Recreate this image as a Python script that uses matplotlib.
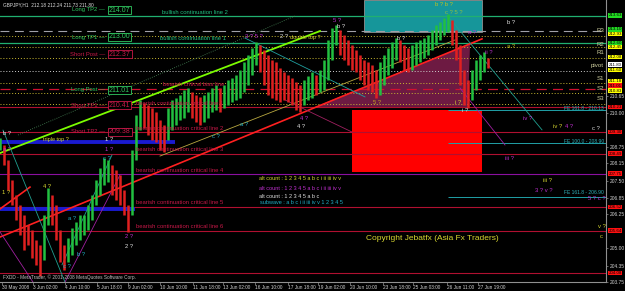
import matplotlib
matplotlib.use('Agg')
import matplotlib.pyplot as plt
from matplotlib.patches import Rectangle, Polygon
import matplotlib.transforms as mtransforms

plt.rcParams['font.family'] = ['Liberation Sans', 'DejaVu Sans']

# ---------------- data ----------------
bar_x = list(range(0, 489, 4))
highs = [209.08, 208.82, 208.26, 207.52, 206.97, 206.60, 206.23, 205.86, 205.67, 205.30,
         205.12, 206.23, 207.23, 206.97, 206.60, 205.67, 205.12, 205.38, 205.75, 205.97,
         206.23, 206.23, 206.60, 206.97, 207.52, 207.97, 208.34, 208.26, 208.08, 207.89,
         207.71, 207.15, 206.60, 208.63, 209.93, 210.49, 210.38, 210.30, 210.19, 210.04,
         209.75, 209.56, 210.19, 210.49, 210.56, 210.67, 210.86, 210.93, 210.78, 210.67,
         210.60, 210.67, 210.78, 210.93, 211.04, 210.93, 211.04, 211.23, 211.30, 211.41,
         211.60, 211.89, 212.15, 212.41, 212.63, 212.52, 212.34, 212.15, 211.97, 211.89,
         211.67, 211.52, 211.41, 211.30, 211.15, 211.04, 211.23, 211.38, 211.52, 211.41,
         211.60, 211.97, 212.71, 213.15, 213.26, 213.08, 212.89, 212.71, 212.52, 212.34,
         212.15, 211.97, 211.89, 211.78, 211.60, 211.89, 212.15, 212.41, 212.63, 212.78,
         212.71, 212.52, 212.41, 212.52, 212.63, 212.71, 212.78, 212.89, 213.08, 213.26,
         213.38, 213.52, 213.67, 213.45, 213.08, 212.52, 211.60, 211.23, 211.60, 211.97,
         212.15, 212.26, 212.04]
lows = [208.63, 208.08, 207.15, 206.60, 206.04, 205.49, 204.93, 205.12, 204.64, 204.38,
        203.97, 204.56, 205.86, 205.86, 205.30, 204.49, 204.19, 204.49, 204.75, 205.12,
        205.30, 205.49, 205.67, 206.04, 206.60, 206.97, 207.34, 207.45, 206.97, 206.78,
        206.60, 206.23, 205.60, 206.23, 208.26, 209.38, 209.45, 209.19, 209.00, 208.93,
        208.63, 208.56, 209.00, 209.38, 209.56, 209.75, 209.82, 210.04, 209.82, 209.67,
        209.56, 209.67, 209.82, 210.04, 210.12, 210.04, 210.19, 210.30, 210.41, 210.49,
        210.56, 210.78, 211.04, 211.41, 211.78, 211.52, 211.04, 210.67, 210.56, 210.49,
        210.41, 210.49, 210.41, 210.30, 210.12, 210.04, 210.30, 210.49, 210.56, 210.67,
        210.78, 210.86, 211.23, 211.97, 212.52, 212.15, 211.97, 211.78, 211.60, 211.52,
        211.23, 211.04, 210.86, 210.78, 210.56, 210.67, 211.04, 211.41, 211.67, 211.97,
        211.89, 211.60, 211.52, 211.60, 211.78, 211.89, 212.04, 212.15, 212.34, 212.52,
        212.71, 212.89, 213.00, 212.52, 211.97, 211.04, 210.30, 210.19, 210.49, 210.86,
        211.23, 211.52, 211.67]

price_ticks = [203.75, 204.35, 205.00, 205.60, 206.25, 206.85, 207.50, 208.15, 208.75,
               209.40, 210.00, 210.65, 211.25, 211.90, 212.50, 213.15, 213.75]
time_pos = [2, 33, 65, 97, 128, 160, 193, 223, 255, 288, 318, 350, 383, 413, 447, 478]
time_labels = ['30 May 2008', '3 Jun 02:00', '4 Jun 10:00', '5 Jun 18:00', '9 Jun 02:00',
               '10 Jun 10:00', '11 Jun 18:00', '13 Jun 02:00', '16 Jun 10:00', '17 Jun 18:00',
               '19 Jun 02:00', '20 Jun 10:00', '23 Jun 18:00', '25 Jun 03:00', '26 Jun 11:00',
               '27 Jun 19:00']

green_levels = [213.60, 212.60]
gray_dash_level = 213.04
pivot_levels = [212.86, 212.45, 212.04, 211.56, 211.12, 210.75, 210.34]
pivot_names = ['R3', 'R2', 'R1', 'pivot', 'S1', 'S2', 'S3']
reversal_level = 210.89
crit_levels = [210.23, 209.30, 208.49, 207.75, 206.52, 205.64]
bottom_level = 204.08
blue_levels = [208.93, 206.45]
blue_ends = [175, 135]
fe_levels = [210.12, 208.89, 206.89]
fe_names = ['FE 161.8 - 210.13', 'FE 100.0 - 208.90', 'FE 161.8 - 206.90']

trade_names = ['Long TP2', 'Long TP1', 'Short Post', 'Long Post', 'Short TP1', 'Short TP2']
trade_values = ['214.07', '213.00', '212.37', '211.01', '210.41', '209.38']

axis_box_prices = [213.63, 213.10, 212.93, 212.60, 212.45, 212.08, 211.80, 211.60, 211.18,
                   211.01, 210.83, 210.23, 209.30, 208.49, 207.75, 206.52, 205.64, 204.08]
axis_box_colors = ['#22dd22', '#22dd22', '#ffff00', '#22dd22', '#ffff00', '#ffff00', '#ffffff',
                   '#ffff00', '#ffff00', '#ff1010', '#ffff00', '#ff1010', '#ff1010', '#ff1010',
                   '#ff1010', '#ff1010', '#ff1010', '#ff1010']

# trend lines: (x0, p0, x1, p1, color, lw, style)
trend_lines = [
    (0, 208.52, 320, 213.04, '#7cfc00', 1.3, '-'),
    (0, 205.41, 482, 212.75, '#ff2020', 1.2, '-'),
    (0, 206.45, 30, 207.26, '#ff2020', 1.2, '-'),
    (160, 208.41, 455, 212.71, '#b8a840', 0.6, '-'),
    (447, 213.63, 542, 209.38, '#20a090', 0.6, '-'),
    (245, 212.78, 365, 210.60, '#20a0a0', 0.6, '-'),
    (18, 209.19, 295, 213.60, '#4a8a5a', 0.6, ':'),
    (3, 209.37, 65, 203.74, '#20a090', 0.6, '-'),
    (0, 205.60, 33, 203.74, '#a020a0', 0.6, '-'),
    (62, 204.38, 112, 208.45, '#20a090', 0.6, '-'),
    (65, 203.74, 120, 207.71, '#a020a0', 0.6, '-'),
    (285, 210.49, 352, 209.30, '#a02060', 0.6, '-'),
    (460, 210.93, 505, 208.82, '#a020a0', 0.6, '-'),
]

W, H = 625, 291
fig = plt.figure(figsize=(W / 100, H / 100), dpi=100, facecolor='black')
ax = fig.add_axes([0, 9 / H, 606 / W, 282 / H])
ax.set_facecolor('black')
ax.set_xlim(0, 606)
ax.set_ylim(203.745, 214.19)

# boxes
ax.add_patch(Rectangle((364, 213.0), 118, 1.19, facecolor='#16969a', edgecolor='#909090',
                       lw=0.6, zorder=1))
ax.add_patch(Rectangle((352, 207.82), 130, 2.30, facecolor='#ff0000', edgecolor='none', zorder=1))
ax.add_patch(Polygon([(315, 210.23), (482, 212.75), (470, 212.52), (468, 210.23)],
                     closed=True, facecolor='#7a1d4a', edgecolor='none', alpha=0.9, zorder=1))

# horizontal lines
for p in green_levels:
    ax.axhline(p, color='#20b070', lw=0.9, zorder=2)
ax.axhline(gray_dash_level, color='#a0a0a8', lw=0.8, ls=(0, (8, 5)), zorder=2)
for i, p in enumerate(pivot_levels):
    c = '#d0d0d0' if pivot_names[i] == 'pivot' else '#c8b830'
    ax.axhline(p, color=c, lw=0.7, ls=(0, (1, 2)), zorder=2)
ax.axhline(reversal_level, color='#d01030', lw=0.9, ls=(0, (8, 5)), zorder=2)
for i, p in enumerate(crit_levels):
    c = '#8a10a0' if i == 3 else '#b01030'
    ax.axhline(p, color=c, lw=0.8, zorder=2)
ax.axhline(bottom_level, color='#b01030', lw=0.8, zorder=2)
for p, xe in zip(blue_levels, blue_ends):
    ax.hlines(p, 0, xe, color='#1a1ad0', lw=2.8, zorder=2)
for p in fe_levels:
    ax.hlines(p, 448, 606, color='#20a0a8', lw=0.7, zorder=2)

for x0, p0, x1, p1, c, lw, ls in trend_lines:
    ax.plot([x0, x1], [p0, p1], color=c, lw=lw, ls=ls, zorder=3)

# candles
mids = [(h + l) / 2 for h, l in zip(highs, lows)]
cols = []
for i, m in enumerate(mids):
    prev = mids[i - 1] if i > 0 else m
    cols.append('#22c040' if m >= prev else '#e02020')
ax.vlines(bar_x, lows, highs, colors=cols, lw=1.8, zorder=4)

# axes styling
for s in ['top', 'left']:
    ax.spines[s].set_visible(False)
for s in ['right', 'bottom']:
    ax.spines[s].set_color('#909090')
    ax.spines[s].set_linewidth(0.8)
ax.yaxis.tick_right()
shown_ticks = [t for t in price_ticks if min(abs(t - b) for b in axis_box_prices) > 0.125]
ax.set_yticks(shown_ticks)
ax.set_yticklabels([f'{p:.2f}' for p in shown_ticks], color='#d0d0d0', fontsize=3.5)
ax.tick_params(axis='y', length=1.5, width=0.5, color='#909090', pad=1.5)
ax.set_xticks(time_pos)
ax.set_xticklabels(time_labels, color='#d0d0d0', fontsize=3.4, ha='left')
ax.tick_params(axis='x', length=2, width=0.5, color='#909090', pad=0.5)

# right axis colored price boxes
tr = mtransforms.blended_transform_factory(ax.transAxes, ax.transData)
for p, c in zip(axis_box_prices, axis_box_colors):
    ax.text(1.004, p, f'{p:.2f}', transform=tr, fontsize=3.2, color='black', va='center',
            ha='left', zorder=6, clip_on=False,
            bbox=dict(facecolor=c, edgecolor='none', pad=0.3))


def T(x, y, s, c, fs=4.0, ha='left', **kw):
    fig.text(x / W, 1 - y / H, s, color=c, fontsize=fs, ha=ha, va='center', **kw)


GREEN = '#30c860'
CRIM = '#c81848'
MAG = '#c030d0'
CYAN = '#20b0c8'
YEL = '#d8d830'
WHITE = '#e0e0e0'

T(3, 5, 'GBPJPY,H1  212.18 212.24 211.73 211.80', WHITE, 3.4)

trade_y = [10, 37, 54, 90, 105, 132]
trade_col = [GREEN, GREEN, CRIM, GREEN, CRIM, CRIM]
for n, v, y, c in zip(trade_names, trade_values, trade_y, trade_col):
    T(105, y, n + ' \u2014', c, 4.2, ha='right')
    T(109, y, v, c, 5.0, bbox=dict(facecolor='black', edgecolor=c, pad=0.6, lw=0.6))

T(162, 13, 'bullish continuation line 2', '#20c080', 4.2)
T(160, 39, 'bullish continuation line 1', '#20c080', 4.2)
T(163, 84, 'bearish critical bias line', CRIM, 4.2)
crit_y = [103, 128, 150, 171, 202, 226]
for i, y in enumerate(crit_y):
    T(136, y, f'bearish continuation critical line {i + 1}', CRIM, 4.2)

T(43, 139, 'triple top ?', YEL, 4.0)
T(290, 37, 'double top ?', YEL, 4.0)

labels = [
    (245, 37, '3 ? 5 ?', MAG), (280, 37, '2 ?', WHITE), (333, 20, '5 ?', MAG),
    (337, 27, 'b ?', WHITE), (397, 38, 'b ?', WHITE), (435, 5, 'b ? b ?', '#c0c020'),
    (445, 12, 'c ? 5 ?', '#90c040'), (507, 23, 'b ?', WHITE), (507, 47, 'a ?', '#c0c020'),
    (468, 33, 'a ?', MAG), (485, 52, 'ii ?', MAG), (300, 119, '4 ?', MAG),
    (297, 127, '4 ?', WHITE), (240, 124, 'a ?', CYAN), (212, 137, 'c ?', CYAN),
    (373, 102, '5 ?', '#c0a020'), (455, 102, 'i ?', YEL), (462, 110, 'i ?', WHITE),
    (523, 119, 'iv ?', MAG), (553, 127, 'iv ?', YEL), (565, 127, '4 ?', MAG),
    (592, 128, 'c ?', WHITE), (505, 158, 'iii ?', MAG), (543, 181, 'iii ?', YEL),
    (535, 190, '3 ? v ?', MAG), (588, 199, '5 ? c ?', MAG), (598, 227, 'v ?', YEL),
    (600, 236, 'c', YEL), (3, 134, 'b ?', WHITE), (3, 150, 'a ?', MAG),
    (105, 139, '1 ?', WHITE), (105, 150, '1 ?', MAG), (103, 159, 'c ?', CYAN),
    (43, 187, '4 ?', YEL), (2, 192, '1 ?', YEL), (68, 218, 'a ?', CYAN),
    (77, 254, 'b ?', CYAN), (63, 267, 'c ?', CYAN), (125, 237, '2 ?', MAG),
    (125, 247, '2 ?', WHITE),
]
for x, y, s, c in labels:
    T(x, y, s, c, 4.2)

T(259, 179, 'alt count : 1 2 3 4 5 a b c i ii iii iv v', YEL, 4.0)
T(259, 188, 'alt count : 1 2 3 4 5 a b c i ii iii iv v', MAG, 4.0)
T(259, 196, 'alt count : 1 2 3 4 5 a b c', WHITE, 4.0)
T(260, 203, 'subwave : a b c i ii iii iv v 1 2 3 4 5', CYAN, 4.0)
T(366, 239, 'Copyright Jebatfx (Asia Fx Traders)', YEL, 6.0)
T(3, 277, 'FXDD - MetaTrader, \u00a9 2001-2008 MetaQuotes Software Corp.', '#c0c0c0', 3.4)

piv_y = [31, 45, 53, 65, 79, 88, 99]
for n, y in zip(pivot_names, piv_y):
    T(604, y, n, '#d0d0a0', 4.4, ha='right')
fe_y = [108, 141, 193]
for n, y in zip(fe_names, fe_y):
    T(604, y, n, '#30b0b8', 3.6, ha='right')

fig.savefig('out.png', dpi=100, facecolor='black')
